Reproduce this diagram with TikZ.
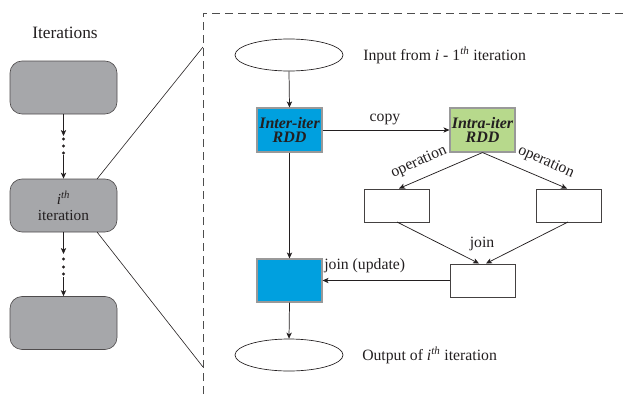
\documentclass[tikz,border=0pt]{standalone}
\usepackage{fontspec}
\setmainfont{Liberation Serif}
\usetikzlibrary{arrows.meta,shapes.geometric}
\definecolor{itergray}{HTML}{A6A7AA}
\definecolor{rddblue}{HTML}{00A0DF}
\definecolor{rddgreen}{HTML}{B7D98C}
\definecolor{inkc}{HTML}{231F20}
\definecolor{framec}{HTML}{4D4D4D}
\tikzset{
  itbox/.style={draw=inkc!80, fill=itergray, rounded corners=9pt, minimum width=80.25pt, minimum height=39.75pt, align=center, inner sep=1pt, line width=0.5pt, font=\fontsize{11.5}{13}\selectfont, text=inkc},
  rddbox/.style={draw=gray!80, minimum width=48.75pt, minimum height=33pt, align=center, inner sep=0pt, line width=0.8pt, font=\bfseries\itshape\fontsize{12}{12}\selectfont, text=inkc},
  wbox/.style={draw=inkc!85, fill=white, minimum width=48.75pt, minimum height=24.75pt, inner sep=0pt, line width=0.6pt},
  oval/.style={draw=inkc, ellipse, minimum width=81pt, minimum height=24pt, inner sep=0pt, line width=0.5pt},
  conn/.style={draw=inkc, line width=0.55pt, -{Stealth[length=4.5pt,width=4pt,inset=1.2pt]}},
  plain/.style={draw=inkc, line width=0.45pt},
  lbl/.style={text=inkc, inner sep=0pt, font=\fontsize{11.8}{13}\selectfont},
  dot/.style={circle, fill=inkc, inner sep=0pt, minimum size=2.4pt},
}
\begin{document}
\begin{tikzpicture}[x=0.75pt,y=-0.75pt]
\useasboundingbox (0,0) rectangle (627,396);
% dashed frame
\begin{scope}
\clip (0,0) rectangle (627,396);
\draw[framec, line width=0.55pt, dash pattern=on 6pt off 3.75pt] (203,420) -- (203,13) -- (660,13);
\end{scope}
% left column
\node[lbl, font=\fontsize{13}{14}\selectfont] (title) at (65,33) {Iterations};
\node[itbox] (b1) at (63.5,87.5) {};
\node[itbox] (b2) at (63.5,205.5) {\textit{i}\textsuperscript{\textit{th}}\\[-1pt]iteration};
\node[itbox] (b3) at (63.5,323) {};
\coordinate (d1a) at (63.5,136);
\coordinate (d1b) at (63.5,155);
\coordinate (d2a) at (63.5,254);
\coordinate (d2b) at (63.5,277);
\draw[conn] (b1.south) -- (d1a);
\node[dot] (p1) at (63.5,139) {};
\node[dot] (p2) at (63.5,146) {};
\node[dot] (p3) at (63.5,153) {};
\draw[conn] (d1b) -- (b2.north);
\draw[conn] (b2.south) -- (d2a);
\node[dot] (q1) at (63.5,259) {};
\node[dot] (q2) at (63.5,267) {};
\node[dot] (q3) at (63.5,274) {};
\draw[conn] (d2b) -- (b3.north);
% zoom lines
\coordinate (z1) at (97,179);
\coordinate (z2) at (97,232);
\coordinate (f1) at (203,47);
\coordinate (f2) at (203,367);
\draw[plain] (z1) -- (f1);
\draw[plain] (z2) -- (f2);
% right part
\node[oval] (in) at (289,55) {};
\node[lbl, anchor=west] (intxt) at (363,55) {Input from \textit{i} - 1\textsuperscript{\textit{th}} iteration};
\node[rddbox, fill=rddblue] (inter) at (289.5,130) {Inter-iter\\[-2pt]RDD};
\node[rddbox, fill=rddgreen] (intra) at (482.5,130) {Intra-iter\\[-2pt]RDD};
\node[wbox] (wl) at (396.5,205.5) {};
\node[wbox] (wr) at (568.5,205.5) {};
\node[wbox] (wj) at (482.5,280.5) {};
\node[rddbox, fill=rddblue, minimum height=32.25pt] (upd) at (289.5,280.5) {};
\node[oval] (out) at (289,355) {};
\node[lbl, anchor=west] (outtxt) at (362,355) {Output of \textit{i}\textsuperscript{\textit{th}} iteration};
\draw[conn] (in.south) -- (inter.north);
\draw[conn] (inter.east) -- (intra.west);
\node[lbl] (copy) at (385,119) {copy};
\coordinate (ol) at (399,188.5);
\coordinate (or) at (567,188.5);
\coordinate (jl) at (479,263.5);
\coordinate (jr) at (486,263.5);
\coordinate (wlb) at (397,222);
\coordinate (wrb) at (568,222);
\draw[conn] (intra.south) -- (ol);
\draw[conn] (intra.south) -- (or);
\node[lbl, rotate=24] (opl) at (419,162) {operation};
\node[lbl, rotate=-24] (opr) at (546,162) {operation};
\draw[conn] (wlb) -- (jl);
\draw[conn] (wrb) -- (jr);
\node[lbl] (join) at (482,244) {join};
\draw[conn] (wj.west) -- (upd.east);
\node[lbl, anchor=west] (jup) at (324,266) {join (update)};
\draw[conn] (inter.south) -- (upd.north);
\draw[conn] (upd.south) -- (out.north);
\end{tikzpicture}
\end{document}
